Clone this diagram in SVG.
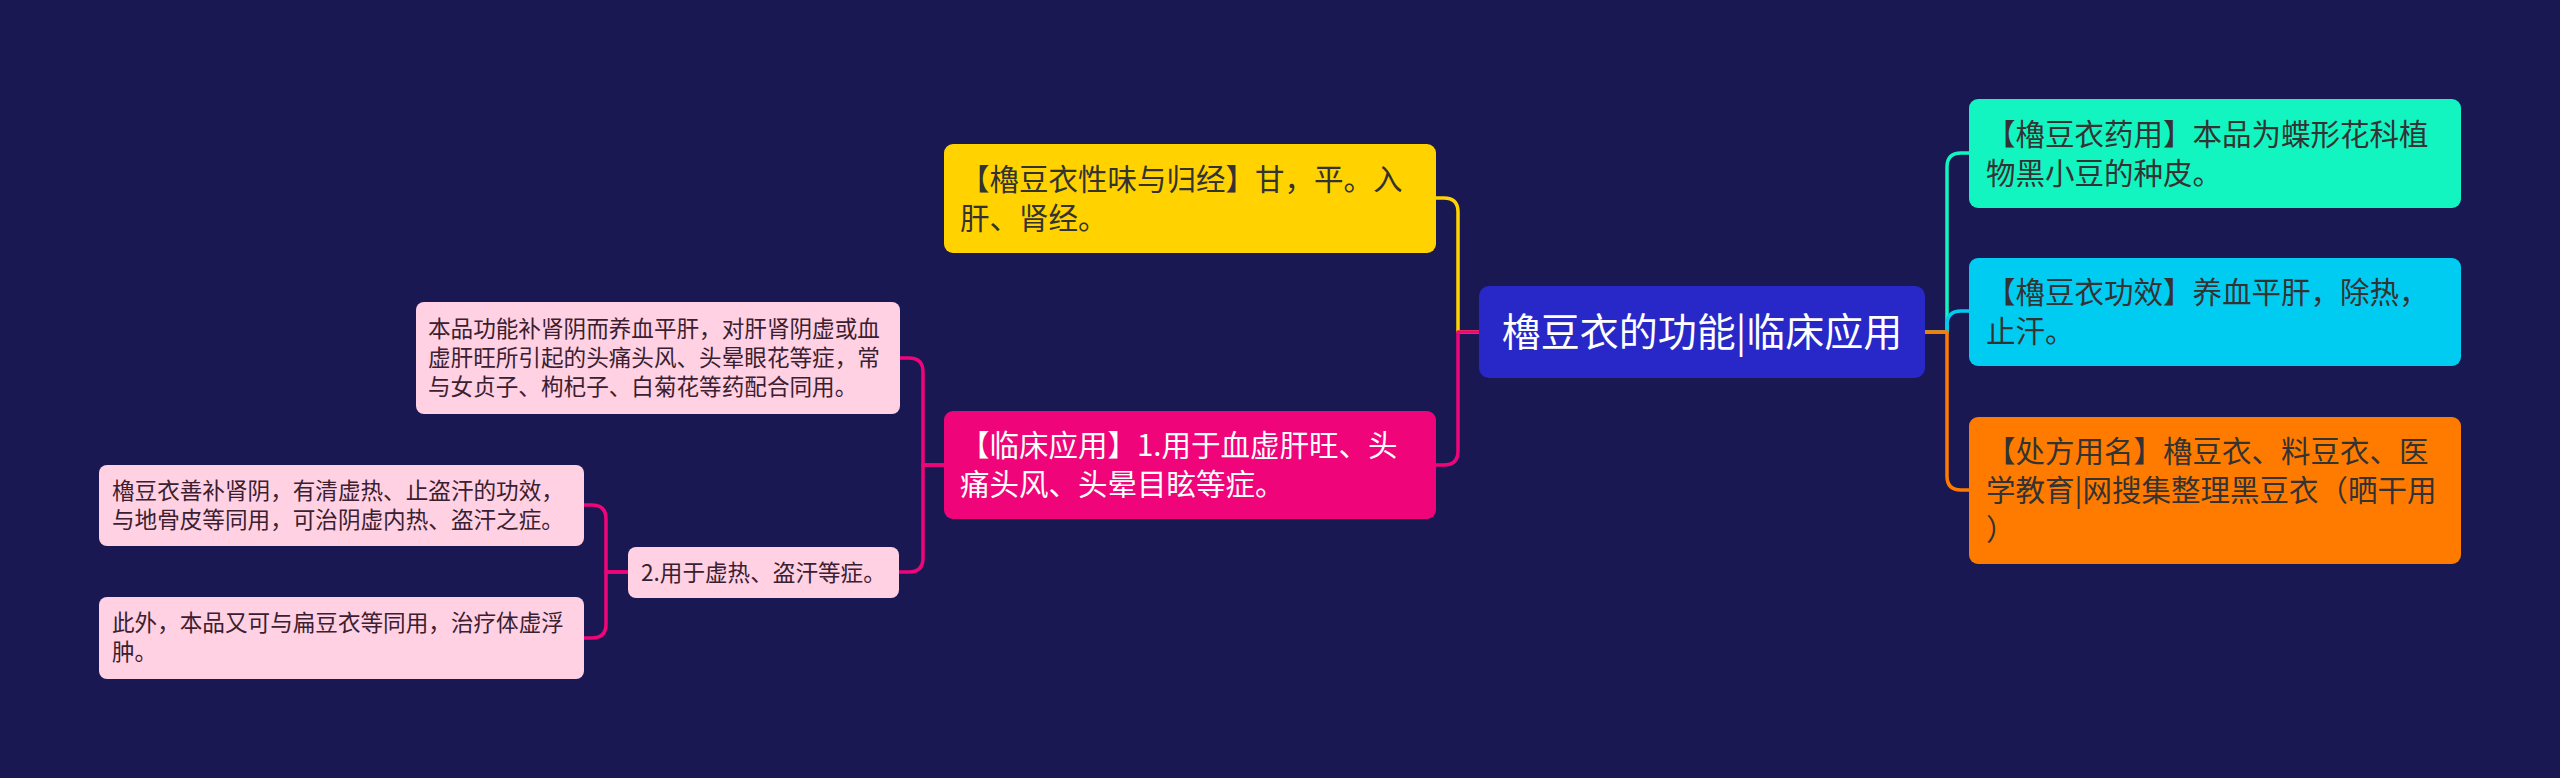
<svg xmlns="http://www.w3.org/2000/svg" width="2560" height="778" viewBox="0 0 2560 778">
<style>
text{font-family:"Noto Sans CJK SC","Noto Sans",sans-serif;}
.t1{font-size:29.5px;fill:#333333;}
.tw{font-size:29.5px;fill:#ffffff;}
.t3{font-size:22.6px;fill:#3a2030;}
.tc{font-size:39px;fill:#ffffff;}
.c{fill:none;stroke-width:3.5;stroke-linejoin:round;}
</style>
<rect x="0" y="0" width="2560" height="778" fill="#1a1852"/>
<g id="connectors">
<path class="c" stroke="#ffd200" d="M1480 332 H1458 V212 Q1458 198 1444 198 H1436"/>
<path class="c" stroke="#f0047a" d="M1480 332 H1458 V451 Q1458 465 1444 465 H1436"/>
<path class="c" stroke="#13f5c1" d="M1925 332 H1947 V167 Q1947 153 1961 153 H1969"/>
<path class="c" stroke="#00ccf2" d="M1925 332 H1947 V325 Q1947 311 1961 311 H1969"/>
<path class="c" stroke="#ff7b00" d="M1925 332 H1947 V476 Q1947 490 1961 490 H1969"/>
<path class="c" stroke="#f0047a" d="M944 465 H923 V372 Q923 358 909 358 H900"/>
<path class="c" stroke="#f0047a" d="M944 465 H923 V558 Q923 572 909 572 H899"/>
<path class="c" stroke="#f0047a" d="M628 572 H606 V519 Q606 505 592 505 H584"/>
<path class="c" stroke="#f0047a" d="M628 572 H606 V624 Q606 638 592 638 H584"/>
</g>
<g id="center">
<rect x="1479" y="286" width="446" height="92" rx="10" fill="#2828c8"/>
<text class="tc" x="1702" y="346" text-anchor="middle">櫓豆衣的功能|临床应用</text>
</g>
<g id="n-xingwei">
<rect x="944" y="144" width="492" height="109" rx="9" fill="#ffd200"/>
<text class="t1" x="960"><tspan x="960" y="189.5">【櫓豆衣性味与归经】甘，平。入</tspan><tspan x="960" y="228.5">肝、肾经。</tspan></text>
</g>
<g id="n-linchuang">
<rect x="944" y="411" width="492" height="108" rx="9" fill="#f0047a"/>
<text class="tw" x="960"><tspan x="960" y="456">【临床应用】1.用于血虚肝旺、头</tspan><tspan x="960" y="495">痛头风、头晕目眩等症。</tspan></text>
</g>
<g id="n-yaoyong">
<rect x="1969" y="99" width="492" height="109" rx="9" fill="#13f5c1"/>
<text class="t1" x="1986"><tspan x="1986" y="145">【櫓豆衣药用】本品为蝶形花科植</tspan><tspan x="1986" y="184">物黑小豆的种皮。</tspan></text>
</g>
<g id="n-gongxiao">
<rect x="1969" y="258" width="492" height="108" rx="9" fill="#00ccf2"/>
<text class="t1" x="1986"><tspan x="1986" y="303">【櫓豆衣功效】养血平肝，除热，</tspan><tspan x="1986" y="342">止汗。</tspan></text>
</g>
<g id="n-chufang">
<rect x="1969" y="417" width="492" height="147" rx="9" fill="#ff7b00"/>
<text class="t1" x="1986"><tspan x="1986" y="462">【处方用名】櫓豆衣、料豆衣、医</tspan><tspan x="1986" y="501">学教育|网搜集整理黑豆衣（晒干用</tspan><tspan x="1986" y="540">）</tspan></text>
</g>
<g id="n-benpin">
<rect x="416" y="302" width="484" height="112" rx="8" fill="#ffd1e3"/>
<text class="t3" x="428"><tspan x="428" y="337">本品功能补肾阴而养血平肝，对肝肾阴虚或血</tspan><tspan x="428" y="366">虚肝旺所引起的头痛头风、头晕眼花等症，常</tspan><tspan x="428" y="395">与女贞子、枸杞子、白菊花等药配合同用。</tspan></text>
</g>
<g id="n-xure">
<rect x="628" y="547" width="271" height="51" rx="8" fill="#ffd1e3"/>
<text class="t3" x="641" y="580.5">2.用于虚热、盗汗等症。</text>
</g>
<g id="n-shanbu">
<rect x="99" y="465" width="485" height="81" rx="8" fill="#ffd1e3"/>
<text class="t3" x="112"><tspan x="112" y="499">櫓豆衣善补肾阴，有清虚热、止盗汗的功效，</tspan><tspan x="112" y="528">与地骨皮等同用，可治阴虚内热、盗汗之症。</tspan></text>
</g>
<g id="n-ciwai">
<rect x="99" y="597" width="485" height="82" rx="8" fill="#ffd1e3"/>
<text class="t3" x="112"><tspan x="112" y="631">此外，本品又可与扁豆衣等同用，治疗体虚浮</tspan><tspan x="112" y="660">肿。</tspan></text>
</g>
</svg>
